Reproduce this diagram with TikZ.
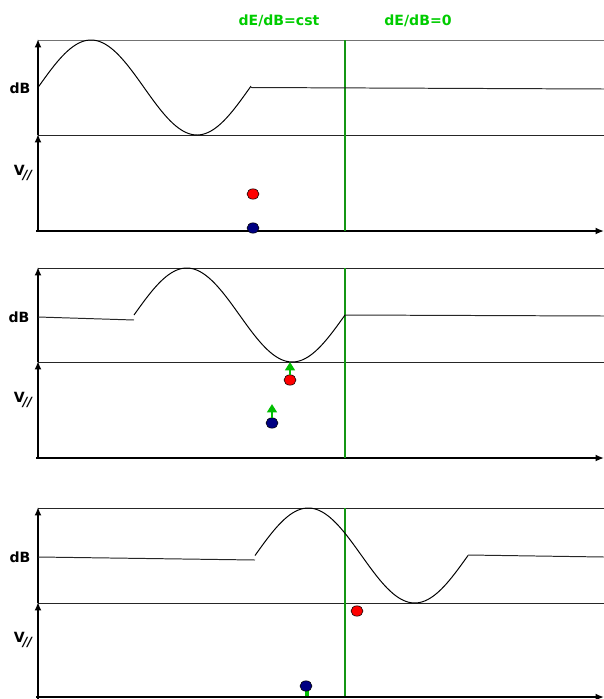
\documentclass[tikz,border=0pt]{standalone}
\usepackage{fontspec}
\setsansfont{DejaVu Sans}
\usepackage{xcolor}
\usetikzlibrary{arrows.meta, shapes.geometric}
\definecolor{labelGreen}{RGB}{0, 204, 0}
\definecolor{limitGreen}{RGB}{20, 150, 20}
\definecolor{pushGreen}{RGB}{0, 190, 0}
\definecolor{dotBlue}{RGB}{0, 0, 130}

\begin{document}
\begin{tikzpicture}[
                x=0.025cm, y=-0.025cm,
                axis/.style={line width=1.6pt, -{Latex[length=6pt, width=5pt]}},
                baseaxis/.style={line width=2pt, -{Latex[length=6pt, width=5pt]}},
                frame/.style={line width=0.7pt, draw=black!85},
                wave/.style={line width=0.7pt, smooth, samples=80},
                limit/.style={line width=0.8pt, draw=limitGreen},
                dot/.style={ellipse, draw=black, line width=0.4pt, minimum width=0.3cm, minimum height=0.26cm, inner sep=0pt},
                push/.style={line width=2pt, draw=pushGreen, -{Triangle[length=6pt, width=7pt]}},
                ylab/.style={font=\sffamily\bfseries},
                title/.style={font=\sffamily\bfseries, text=labelGreen}
            ]
                \useasboundingbox (0,0) rectangle (604,699);

                % --- TITLES ---
                \node[title] (cst) at (279,21) {dE/dB=cst};
                \node[title] (zero) at (418,21) {dE/dB=0};

                % --- PANEL 1 ---
                \draw[frame, draw=black!55] (38,40) -- (604,40);
                \draw[frame] (38,135) -- (604,135);
                \draw[axis] (38,135) -- (38,39);
                \draw[axis] (38,231) -- (38,134);
                \draw[baseaxis] (36,231) -- (604,231);
                \draw[limit] (345,40) -- (345,231);
                \draw[wave] plot[domain=38:251] ({\x},{87.5-47.5*sin((\x-38)/212*360)});
                \draw[frame] (251,87.5) -- (604,89);
                \node[ylab] (db1) at (20,88) {dB};
                \node[ylab] (v1) at (23,173) {V\kern-0.15em\raisebox{-0.5ex}{\small\itshape //}};
                \node[dot, fill=red] (red1) at (253,194) {};
                \node[dot, fill=dotBlue] (blue1) at (253,228) {};

                % --- PANEL 2 ---
                \draw[frame] (38,268) -- (604,268);
                \draw[frame] (38,362) -- (604,362);
                \draw[axis] (38,362) -- (38,267);
                \draw[axis] (38,458) -- (38,361);
                \draw[baseaxis] (36,458) -- (604,458);
                \draw[limit] (345,268) -- (345,458);
                \draw[frame] (38,317) -- (134,320);
                \draw[wave] plot[domain=134:345] ({\x},{315-47*sin((\x-134)/211*360)});
                \draw[frame] (345,315) -- (604,316);
                \node[ylab] (db2) at (19,317) {dB};
                \node[ylab] (v2) at (23,400) {V\kern-0.15em\raisebox{-0.5ex}{\small\itshape //}};
                \node[dot, fill=red] (red2) at (290,380) {};
                \node[dot, fill=dotBlue] (blue2) at (272,423) {};
                \coordinate (red2tip) at (290,362);
                \coordinate (blue2tip) at (272,404);
                \draw[push] (red2) -- (red2tip);
                \draw[push] (blue2) -- (blue2tip);

                % --- PANEL 3 ---
                \draw[frame] (38,508) -- (604,508);
                \draw[frame] (38,603) -- (604,603);
                \draw[axis] (38,603) -- (38,507);
                \draw[axis] (38,699) -- (38,602);
                \draw[limit] (345,508) -- (345,697);
                \draw[frame] (38,557) -- (255,560);
                \draw[wave] plot[domain=255:468] ({\x},{555.5-47.5*sin((\x-255)/213*360)});
                \draw[frame] (468,555) -- (604,557);
                \node[ylab] (db3) at (20,557) {dB};
                \node[ylab] (v3) at (23,640) {V\kern-0.15em\raisebox{-0.5ex}{\small\itshape //}};
                \node[dot, fill=red] (red3) at (357,611) {};
                \coordinate (blue3tip) at (307,696);
                \draw[line width=2.2pt, draw=pushGreen] (307,686) -- (blue3tip);
                \node[dot, fill=dotBlue] (blue3) at (306,686) {};
                \draw[baseaxis] (36,697) -- (604,697);

                \end{tikzpicture}
\end{document}
